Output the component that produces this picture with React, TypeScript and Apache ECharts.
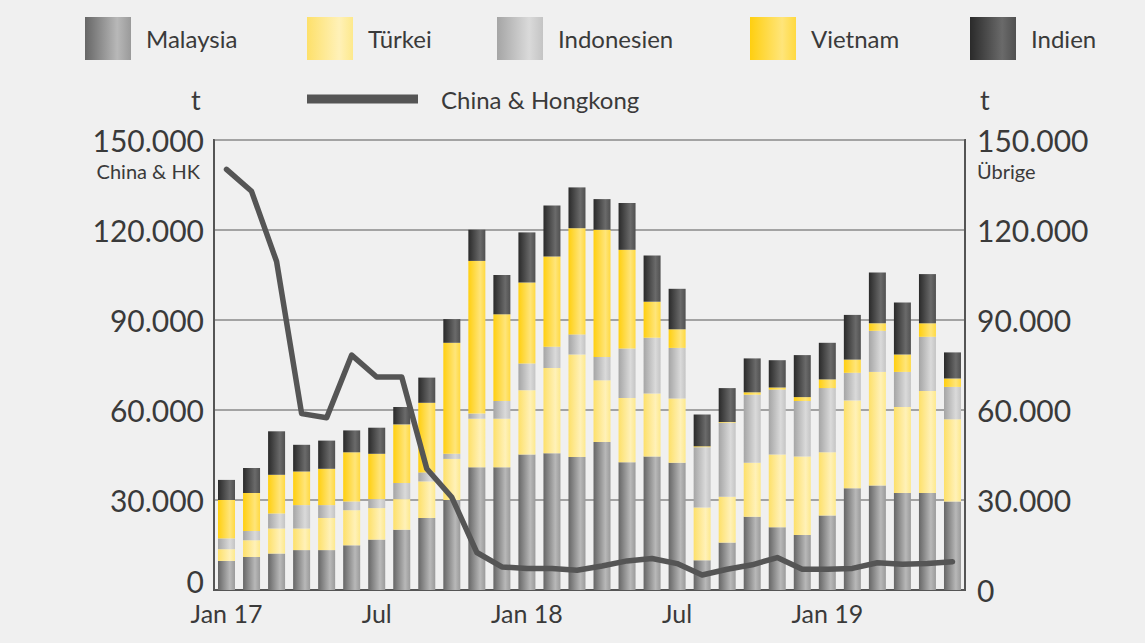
import React, { useEffect, useRef } from "react";
import * as echarts from "echarts";

const months = [
  "Jan 17", "Feb 17", "Mär 17", "Apr 17", "Mai 17", "Jun 17", "Jul 17", "Aug 17", "Sep 17", "Okt 17", "Nov 17", "Dez 17",
  "Jan 18", "Feb 18", "Mär 18", "Apr 18", "Mai 18", "Jun 18", "Jul 18", "Aug 18", "Sep 18", "Okt 18", "Nov 18", "Dez 18",
  "Jan 19", "Feb 19", "Mär 19", "Apr 19", "Mai 19", "Jun 19",
];
const tickLabels: Record<number, string> = { 0: "Jan 17", 6: "Jul", 12: "Jan 18", 18: "Jul", 24: "Jan 19" };

const malaysia = [9700, 11000, 12150, 13300, 13300, 14900, 16800, 20100, 24000, 30000, 40900, 40900, 45200, 45600, 44300, 49300, 42600, 44500, 42400, 9900, 15800, 24400, 20900, 18300, 24800, 33900, 34800, 32300, 32300, 29500];
const tuerkei = [3900, 5600, 8350, 7200, 10700, 11700, 10500, 10200, 12200, 13700, 16200, 16200, 21400, 28400, 34200, 20600, 21400, 21000, 21400, 17600, 15300, 18000, 24300, 26200, 21100, 29300, 37900, 28700, 34000, 27400];
const indonesien = [3600, 3100, 5000, 7800, 4300, 2900, 3000, 5400, 3000, 1700, 1700, 5900, 8900, 7100, 6700, 7800, 16500, 18600, 16900, 20100, 24700, 22700, 21600, 18500, 21400, 9200, 13700, 11700, 18100, 10800];
const vietnam = [12800, 12600, 12900, 11200, 12100, 16400, 15100, 19500, 23200, 37000, 50900, 28900, 27000, 30100, 35400, 42400, 32900, 12000, 6200, 300, 200, 800, 700, 1300, 2900, 4400, 2500, 5800, 4500, 2800];
const indien = [6700, 8400, 14500, 8900, 9400, 7300, 8700, 5800, 8400, 7900, 10400, 13100, 16700, 17000, 13600, 10200, 15600, 15400, 13500, 10600, 11300, 11300, 9100, 14000, 12200, 14900, 16900, 17300, 16400, 8700];
const chinaHK = [140200, 132900, 109500, 58800, 57400, 78300, 71000, 71000, 40400, 30900, 12500, 7700, 7200, 7200, 6600, 8000, 9700, 10500, 8800, 5000, 6900, 8400, 10800, 6900, 6900, 7200, 9100, 8600, 8800, 9400];

const FONT = "Lato, 'Open Sans', sans-serif";

const grad = (a: string, b: string, c: string) =>
  new echarts.graphic.LinearGradient(0, 0, 1, 0, [
    { offset: 0, color: a },
    { offset: 0.7, color: b },
    { offset: 1, color: c },
  ]);

const barSeries = [
  { name: "Malaysia", data: malaysia, color: grad("#666666", "#b8b8b8", "#9a9a9a") },
  { name: "Türkei", data: tuerkei, color: grad("#fde06a", "#fff1b8", "#fde98c") },
  { name: "Indonesien", data: indonesien, color: grad("#a5a5a5", "#dadada", "#c4c4c4") },
  { name: "Vietnam", data: vietnam, color: grad("#ffcf10", "#ffe57a", "#ffd940") },
  { name: "Indien", data: indien, color: grad("#2a2a2a", "#6a6a6a", "#505050") },
];

const legendPos = [80, 302, 492, 745, 965];

const fmt = (v: number) => String(v).replace(/\B(?=(\d{3})+(?!\d))/g, ".");

export default function App() {
  const ref = useRef<HTMLDivElement>(null);
  useEffect(() => {
    if (!ref.current) return;
    const chart = echarts.init(ref.current, undefined, { renderer: "svg" });
    const legends: any[] = barSeries.map((s, i) => ({
      data: [s.name],
      left: legendPos[i],
      top: 12,
      icon: "rect",
      itemWidth: 46,
      itemHeight: 43,
      selectedMode: false,
      textStyle: { fontSize: 24, color: "#3a3a3a", fontFamily: FONT, padding: [0, 0, 0, 10] },
    }));
    legends.push({
      data: ["China & Hongkong"],
      left: 302,
      top: 82,
      icon: "rect",
      itemWidth: 111,
      itemHeight: 9,
      selectedMode: false,
      textStyle: { fontSize: 24, color: "#3a3a3a", fontFamily: FONT, padding: [0, 0, 0, 18] },
    });
    chart.setOption({
      animation: false,
      backgroundColor: "#f0f0f0",
      textStyle: { fontFamily: FONT },
      legend: legends,
      grid: {
        left: 214,
        right: 180,
        top: 140,
        bottom: 53,
        show: true,
        borderColor: "#555",
        borderWidth: 2,
        backgroundColor: "transparent",
      },
      xAxis: {
        type: "category",
        data: months,
        axisTick: { show: false },
        axisLine: { lineStyle: { color: "#555", width: 2 } },
        axisLabel: {
          interval: (i: number) => i % 6 === 0,
          formatter: (_v: string, i: number) => tickLabels[i] ?? "",
          fontSize: 25,
          color: "#3a3a3a",
          margin: 10,
          fontFamily: FONT,
        },
      },
      yAxis: [
        {
          type: "value",
          min: 0,
          max: 150000,
          interval: 30000,
          position: "left",
          axisLine: { show: true, lineStyle: { color: "#555", width: 2 } },
          axisTick: { show: false },
          splitLine: { lineStyle: { color: "#a3a3a3", width: 2 } },
          axisLabel: {
            formatter: (v: number) => (v === 0 ? "{z|0}" : fmt(v)),
            fontSize: 30,
            color: "#3a3a3a",
            margin: 10,
            fontFamily: FONT,
            rich: { z: { fontSize: 30, color: "#3a3a3a", fontFamily: FONT, padding: [0, 0, 18, 0] } },
          },
        },
        {
          type: "value",
          min: 0,
          max: 150000,
          interval: 30000,
          position: "right",
          axisLine: { show: true, lineStyle: { color: "#555", width: 2 } },
          axisTick: { show: false },
          splitLine: { show: false },
          axisLabel: { formatter: fmt, fontSize: 30, color: "#3a3a3a", margin: 12, fontFamily: FONT },
        },
      ],
      graphic: [
        { type: "text", left: 191, top: 86, style: { text: "t", fontSize: 27, fill: "#3a3a3a", fontFamily: FONT } },
        { type: "text", left: 980, top: 86, style: { text: "t", fontSize: 27, fill: "#3a3a3a", fontFamily: FONT } },
        { type: "text", right: 945, top: 161, style: { text: "China & HK", fontSize: 20, fill: "#3a3a3a", fontFamily: FONT } },
        { type: "text", left: 977, top: 161, style: { text: "Übrige", fontSize: 20, fill: "#3a3a3a", fontFamily: FONT } },
      ],
      series: [
        ...barSeries.map((s) => ({
          name: s.name,
          type: "bar",
          stack: "uebrige",
          yAxisIndex: 1,
          barWidth: 17,
          data: s.data,
          itemStyle: { color: s.color },
        })),
        {
          name: "China & Hongkong",
          type: "line",
          yAxisIndex: 0,
          data: chinaHK,
          showSymbol: false,
          symbol: "none",
          itemStyle: { color: "#555555" },
          lineStyle: { color: "#555555", width: 5.5, join: "round", cap: "round" },
          z: 5,
        },
      ],
    });
    return () => chart.dispose();
  }, []);
  return (
    <div style={{ position: "fixed", left: 0, top: 0, width: 1145, height: 643, background: "#f0f0f0" }}>
      <div ref={ref} style={{ width: 1145, height: 643 }} />
    </div>
  );
}
